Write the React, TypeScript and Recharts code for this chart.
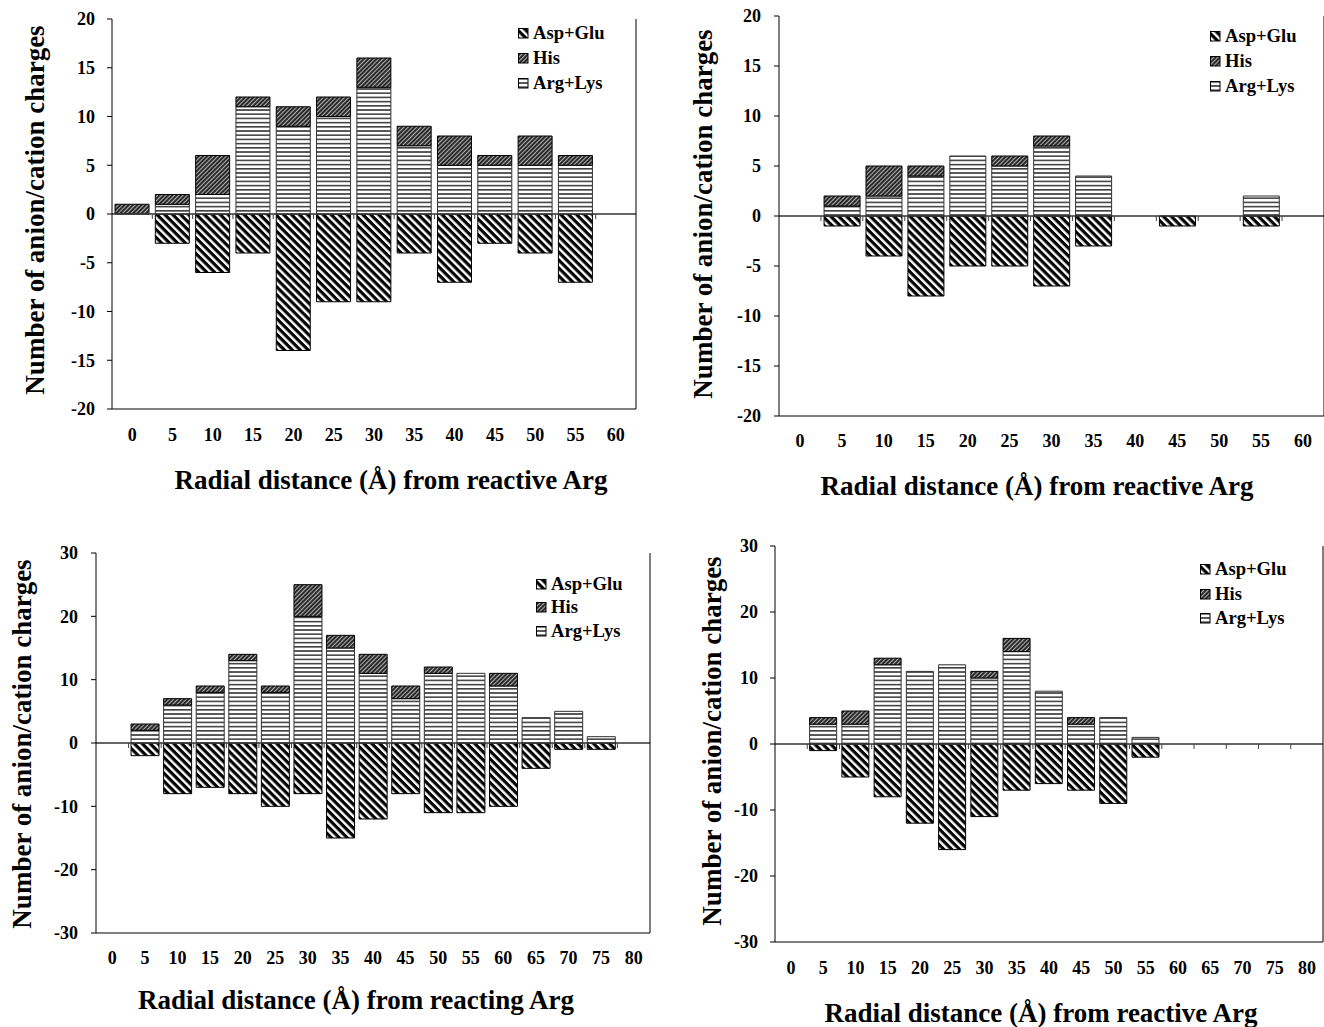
import React from 'react';
import { BarChart, Bar, XAxis, YAxis, ReferenceLine, Legend } from 'recharts';

// ---------- data ----------
const cats60 = ['0', '5', '10', '15', '20', '25', '30', '35', '40', '45', '50', '55', '60'];
const cats80 = ['0', '5', '10', '15', '20', '25', '30', '35', '40', '45', '50', '55', '60', '65', '70', '75', '80'];

const p1ArgLys = [0, 1, 2, 11, 9, 10, 13, 7, 5, 5, 5, 5, 0];
const p1His = [1, 1, 4, 1, 2, 2, 3, 2, 3, 1, 3, 1, 0];
const p1AspGlu = [0, -3, -6, -4, -14, -9, -9, -4, -7, -3, -4, -7, 0];

const p2ArgLys = [0, 1, 2, 4, 6, 5, 7, 4, 0, 0, 0, 2, 0];
const p2His = [0, 1, 3, 1, 0, 1, 1, 0, 0, 0, 0, 0, 0];
const p2AspGlu = [0, -1, -4, -8, -5, -5, -7, -3, 0, -1, 0, -1, 0];

const p3ArgLys = [0, 2, 6, 8, 13, 8, 20, 15, 11, 7, 11, 11, 9, 4, 5, 1, 0];
const p3His = [0, 1, 1, 1, 1, 1, 5, 2, 3, 2, 1, 0, 2, 0, 0, 0, 0];
const p3AspGlu = [0, -2, -8, -7, -8, -10, -8, -15, -12, -8, -11, -11, -10, -4, -1, -1, 0];

const p4ArgLys = [0, 3, 3, 12, 11, 12, 10, 14, 8, 3, 4, 1, 0, 0, 0, 0, 0];
const p4His = [0, 1, 2, 1, 0, 0, 1, 2, 0, 1, 0, 0, 0, 0, 0, 0, 0];
const p4AspGlu = [0, -1, -5, -8, -12, -16, -11, -7, -6, -7, -9, -2, 0, 0, 0, 0, 0];

const ticks20 = [-20, -15, -10, -5, 0, 5, 10, 15, 20];
const ticks30 = [-30, -20, -10, 0, 10, 20, 30];

const yTitle = 'Number of anion/cation charges';
const xTitleReactive = 'Radial distance (Å) from reactive Arg';
const xTitleReacting = 'Radial distance (Å) from reacting Arg';

const SERIES = [
  { key: 'aspGlu', name: 'Asp+Glu', fill: 'url(#pA)', stroke: '#000' },
  { key: 'his', name: 'His', fill: 'url(#pH)', stroke: '#000' },
  { key: 'argLys', name: 'Arg+Lys', fill: 'url(#pR)', stroke: '#333' },
];

const FONT = "'Liberation Serif', 'Times New Roman', Times, serif";

function buildRows(cats: string[], argLys: number[], his: number[], aspGlu: number[]) {
  return cats.map((r, i) => ({ r, argLys: argLys[i], his: his[i], aspGlu: aspGlu[i] }));
}

type Cfg = {
  left: number; top: number; width: number; height: number;
  pl: number; pt: number; pr: number; pb: number;
  cats: string[]; data: any[]; domain: [number, number]; ticks: number[];
  xTickMargin: number; yTickMargin: number;
  xTitle: string; xTitleX: number; xTitleY: number;
  yTitleX: number; yTitleY: number;
  legendX: number; legendY: number; legendRow: number;
};

const panels: Cfg[] = [
  {
    left: 0, top: 0, width: 650, height: 510,
    pl: 112, pt: 19, pr: 636, pb: 409,
    cats: cats60, data: buildRows(cats60, p1ArgLys, p1His, p1AspGlu),
    domain: [-20, 20], ticks: ticks20, xTickMargin: 19, yTickMargin: 12,
    xTitle: xTitleReactive, xTitleX: 391, xTitleY: 480, yTitleX: 35, yTitleY: 210,
    legendX: 518, legendY: 20.5, legendRow: 25,
  },
  {
    left: 680, top: 0, width: 644, height: 516,
    pl: 779, pt: 16, pr: 1324, pb: 416,
    cats: cats60, data: buildRows(cats60, p2ArgLys, p2His, p2AspGlu),
    domain: [-20, 20], ticks: ticks20, xTickMargin: 18, yTickMargin: 13,
    xTitle: xTitleReactive, xTitleX: 1037, xTitleY: 486, yTitleX: 703, yTitleY: 214,
    legendX: 1210, legendY: 23.5, legendRow: 25,
  },
  {
    left: 0, top: 520, width: 660, height: 507,
    pl: 96, pt: 553, pr: 650, pb: 933,
    cats: cats80, data: buildRows(cats80, p3ArgLys, p3His, p3AspGlu),
    domain: [-30, 30], ticks: ticks30, xTickMargin: 18, yTickMargin: 13,
    xTitle: xTitleReacting, xTitleX: 356, xTitleY: 1000, yTitleX: 22, yTitleY: 744,
    legendX: 536, legendY: 572.5, legendRow: 23.5,
  },
  {
    left: 680, top: 520, width: 644, height: 507,
    pl: 775, pt: 546, pr: 1323, pb: 942,
    cats: cats80, data: buildRows(cats80, p4ArgLys, p4His, p4AspGlu),
    domain: [-30, 30], ticks: ticks30, xTickMargin: 19, yTickMargin: 12,
    xTitle: xTitleReactive, xTitleX: 1041, xTitleY: 1013, yTitleX: 712, yTitleY: 741,
    legendX: 1200, legendY: 557.5, legendRow: 24.5,
  },
];

const tickFont = { fill: '#000', fontSize: 18, fontWeight: 'bold' as const, fontFamily: FONT };

const zeroTick = (p: any) => (
  <line x1={p.x1} y1={p.y1} x2={p.x1} y2={p.y1 + 5} stroke="#444" strokeWidth={1} />
);

function Panel({ cfg }: { cfg: Cfg }) {
  const margin = { top: cfg.pt - cfg.top, right: cfg.left + cfg.width - cfg.pr, left: 0, bottom: 0 };
  const yW = cfg.pl - cfg.left;
  const xH = cfg.top + cfg.height - cfg.pb;
  const lastCat = cfg.cats[cfg.cats.length - 1];

  const legendContent = () => (
    <div style={{ fontFamily: FONT, fontWeight: 'bold', fontSize: 18.6, color: '#000' }}>
      {SERIES.map((s) => (
        <div key={s.key} style={{ display: 'flex', alignItems: 'center', height: cfg.legendRow, whiteSpace: 'nowrap' }}>
          <svg width={11} height={11} style={{ marginRight: 4, display: 'block' }}>
            <rect x={0.5} y={0.5} width={9.5} height={9.5} fill={s.fill} stroke="#000" strokeWidth={1} />
          </svg>
          <span style={{ lineHeight: 1 }}>{s.name}</span>
        </div>
      ))}
    </div>
  );

  const xTitle = () => (
    <text
      x={cfg.xTitleX - cfg.left}
      y={cfg.xTitleY - cfg.top}
      textAnchor="middle"
      dominantBaseline="central"
      fontFamily={FONT}
      fontWeight="bold"
      fontSize={27}
      fill="#000"
    >
      {cfg.xTitle}
    </text>
  );

  const yTitleEl = () => {
    const cx = cfg.yTitleX - cfg.left;
    const cy = cfg.yTitleY - cfg.top;
    return (
      <text
        x={cx}
        y={cy}
        transform={`rotate(-90 ${cx} ${cy})`}
        textAnchor="middle"
        dominantBaseline="central"
        fontFamily={FONT}
        fontWeight="bold"
        fontSize={27}
        fill="#000"
      >
        {yTitle}
      </text>
    );
  };

  return (
    <div style={{ position: 'absolute', left: cfg.left, top: cfg.top }}>
      <BarChart
        width={cfg.width}
        height={cfg.height}
        data={cfg.data}
        stackOffset="sign"
        barCategoryGap="7.5%"
        margin={margin}
      >
        <XAxis
          dataKey="r"
          interval={0}
          tickLine={false}
          tickSize={0}
          tickMargin={cfg.xTickMargin}
          height={xH}
          axisLine={{ stroke: '#000', strokeWidth: 1 }}
          tick={tickFont}
          label={xTitle}
        />
        <XAxis
          xAxisId="top"
          orientation="top"
          dataKey="r"
          height={0}
          tick={false}
          tickLine={false}
          axisLine={{ stroke: '#000', strokeWidth: 1 }}
        />
        <YAxis
          type="number"
          domain={cfg.domain}
          ticks={cfg.ticks}
          interval={0}
          width={yW}
          tickSize={5}
          tickMargin={cfg.yTickMargin}
          tickLine={{ stroke: '#000' }}
          axisLine={{ stroke: '#000', strokeWidth: 1 }}
          tick={tickFont}
          label={yTitleEl}
        />
        <Bar dataKey="aspGlu" name="Asp+Glu" stackId="s" fill="url(#pA)" stroke="#000" strokeWidth={1} isAnimationActive={false} />
        <Bar dataKey="argLys" name="Arg+Lys" stackId="s" fill="url(#pR)" stroke="#333" strokeWidth={1} isAnimationActive={false} />
        <Bar dataKey="his" name="His" stackId="s" fill="url(#pH)" stroke="#000" strokeWidth={1} isAnimationActive={false} />
        <ReferenceLine y={0} stroke="#333" strokeWidth={1.5} />
        <ReferenceLine x={lastCat} position="end" stroke="#000" strokeWidth={1} />
        {cfg.cats.slice(1).map((c) => (
          <ReferenceLine
            key={'t' + c}
            segment={[{ x: c, y: 0 }, { x: c, y: 0 }]}
            position="start"
            shape={zeroTick}
          />
        ))}
        <Legend
          layout="horizontal"
          verticalAlign="middle"
          align="center"
          content={legendContent}
          wrapperStyle={{ left: cfg.legendX - cfg.left, top: cfg.legendY - cfg.top, width: 'auto', height: 'auto' }}
        />
      </BarChart>
    </div>
  );
}

export default function App() {
  return (
    <div style={{ position: 'absolute', left: 0, top: 0, width: 1324, height: 1027, background: '#fff', overflow: 'hidden' }}>
      <svg width={0} height={0} style={{ position: 'absolute' }}>
        <defs>
          <pattern id="pA" patternUnits="userSpaceOnUse" width={5.6} height={5.6} patternTransform="rotate(45)">
            <rect width={5.6} height={5.6} fill="#fff" />
            <rect width={5.6} height={3.2} fill="#000" />
          </pattern>
          <pattern id="pH" patternUnits="userSpaceOnUse" width={3} height={3} patternTransform="rotate(45)">
            <rect width={3} height={3} fill="#2a2a2a" />
            <rect width={1} height={3} fill="#b0b0b0" />
          </pattern>
          <pattern id="pR" patternUnits="userSpaceOnUse" width={4} height={4.2}>
            <rect width={4} height={4.2} fill="#fff" />
            <rect width={4} height={1.6} fill="#404040" />
          </pattern>
        </defs>
      </svg>
      {panels.map((p, i) => (
        <Panel key={i} cfg={p} />
      ))}
    </div>
  );
}
